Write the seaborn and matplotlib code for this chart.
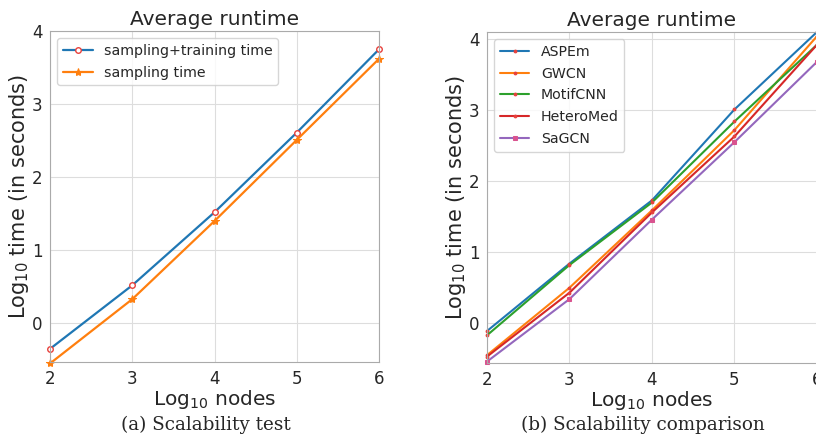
import matplotlib
matplotlib.use("Agg")
import matplotlib.pyplot as plt
import seaborn as sns

# data
nodes = [2, 3, 4, 5, 6]

# (a) scalability test
sampling_training = [-0.35, 0.52, 1.52, 2.61, 3.75]
sampling_only = [-0.55, 0.33, 1.40, 2.51, 3.62]

# (b) scalability comparison
aspem = [-0.11, 0.84, 1.73, 3.01, 4.10]
gwcn = [-0.45, 0.50, 1.59, 2.72, 4.04]
motifcnn = [-0.17, 0.82, 1.70, 2.84, 3.92]
heteromed = [-0.47, 0.43, 1.56, 2.63, 3.92]
sagcn = [-0.54, 0.34, 1.46, 2.55, 3.68]

sns.set_style("whitegrid", {"grid.color": "#dddddd", "axes.edgecolor": "#aaaaaa"})
plt.rcParams["font.family"] = ["DejaVu Sans"]

pal = sns.color_palette("tab10")
fig = plt.figure(figsize=(8.16, 4.37), dpi=100)
ax1 = fig.add_axes([0.0613, 0.1716, 0.4032, 0.7574])
ax2 = fig.add_axes([0.5968, 0.1693, 0.4044, 0.7575])

# left panel
sns.lineplot(x=nodes, y=sampling_training, ax=ax1, color=pal[0], lw=1.6,
             marker="o", markersize=4, markerfacecolor="white",
             markeredgecolor="#e8413c", markeredgewidth=1,
             label="sampling+training time", clip_on=False)
sns.lineplot(x=nodes, y=sampling_only, ax=ax1, color=pal[1], lw=1.6,
             marker="*", markersize=6, markerfacecolor=pal[1],
             markeredgecolor=pal[1], label="sampling time", clip_on=False)
ax1.set_xlim(2, 6)
ax1.set_ylim(-0.53, 4)
ax1.set_yticks([0, 1, 2, 3, 4])
ax1.set_xticks(nodes)

# right panel
series = [("ASPEm", aspem, "."), ("GWCN", gwcn, "."), ("MotifCNN", motifcnn, "."),
          ("HeteroMed", heteromed, "."), ("SaGCN", sagcn, "s")]
for i, (name, vals, mk) in enumerate(series):
    sns.lineplot(x=nodes, y=vals, ax=ax2, color=pal[i], lw=1.5,
                 marker=mk, markersize=4 if mk == "." else 3,
                 markerfacecolor="#e8413c" if mk == "." else "#d9538f",
                 markeredgecolor="#e8413c" if mk == "." else "#d9538f",
                 label=name, clip_on=False)
ax2.set_xlim(2, 6)
ax2.set_ylim(-0.56, 4.1)
ax2.set_yticks([0, 1, 2, 3, 4])
ax2.set_xticks(nodes)

for ax in (ax1, ax2):
    ax.set_title("Average runtime", fontsize=14.5, pad=4)
    ax.set_xlabel(r"Log$_{10}$ nodes", fontsize=14.5, labelpad=0)
    ax.set_ylabel(r"Log$_{10}$ time (in seconds)", fontsize=15, labelpad=0.5)
    ax.tick_params(labelsize=12, pad=2)
    ax.legend(loc="upper left", fontsize=10.2, frameon=True, handlelength=2.1,
              handletextpad=0.8, borderaxespad=0.5, labelspacing=0.55)

fig.text(0.252, 0.028, "(a) Scalability test", family="DejaVu Serif",
         fontsize=13.2, ha="center", va="center")
fig.text(0.788, 0.028, "(b) Scalability comparison", family="DejaVu Serif",
         fontsize=13.2, ha="center", va="center")

fig.savefig("out.png", dpi=100)
